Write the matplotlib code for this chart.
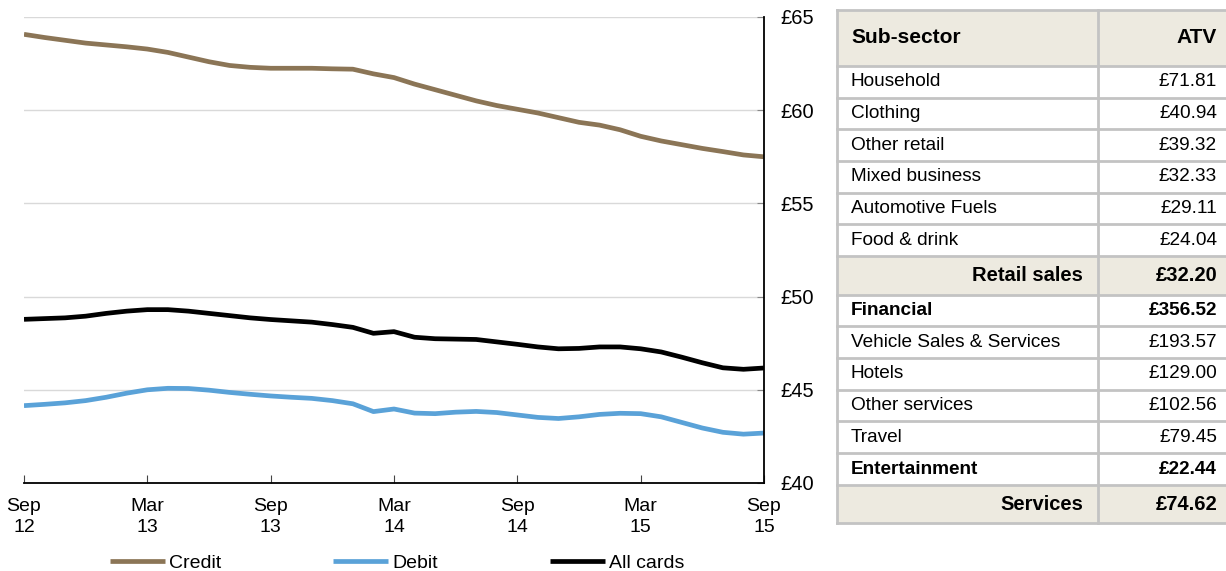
"""Average transaction value by card type, with sub-sector table."""

import matplotlib

matplotlib.use("Agg")
import matplotlib.pyplot as plt
from matplotlib.patches import Rectangle

plt.rcParams["font.family"] = ["Liberation Sans", "DejaVu Sans"]

# monthly ATV, Sep 2012 .. Sep 2015
credit = [64.07, 63.9, 63.75, 63.6, 63.5, 63.4, 63.28, 63.1, 62.85, 62.6,
          62.4, 62.3, 62.25, 62.25, 62.25, 62.22, 62.2, 61.95, 61.75, 61.4,
          61.1, 60.8, 60.5, 60.25, 60.05, 59.85, 59.6, 59.35, 59.2, 58.95,
          58.6, 58.35, 58.15, 57.95, 57.78, 57.6, 57.5]
debit = [44.15, 44.22, 44.3, 44.42, 44.6, 44.82, 45.0, 45.08, 45.07, 44.98,
         44.86, 44.76, 44.67, 44.6, 44.54, 44.42, 44.25, 43.83, 43.97, 43.75,
         43.72, 43.8, 43.84, 43.78, 43.65, 43.52, 43.46, 43.55, 43.68, 43.74,
         43.72, 43.55, 43.25, 42.95, 42.72, 42.62, 42.68]
all_cards = [48.78, 48.82, 48.86, 48.95, 49.1, 49.22, 49.3, 49.3, 49.22, 49.1,
             48.98, 48.86, 48.77, 48.7, 48.63, 48.5, 48.35, 48.03, 48.12, 47.82,
             47.74, 47.72, 47.7, 47.57, 47.44, 47.3, 47.2, 47.22, 47.3, 47.3,
             47.2, 47.03, 46.75, 46.45, 46.18, 46.1, 46.17]
tick_months = [0, 6, 12, 18, 24, 30, 36]
tick_labels = ["Sep\n12", "Mar\n13", "Sep\n13", "Mar\n14", "Sep\n14", "Mar\n15", "Sep\n15"]
y_ticks = [40, 45, 50, 55, 60, 65]

sub_sectors = ["Household", "Clothing", "Other retail", "Mixed business",
               "Automotive Fuels", "Food & drink", "Retail sales", "Financial",
               "Vehicle Sales & Services", "Hotels", "Other services", "Travel",
               "Entertainment", "Services"]
atv = ["£71.81", "£40.94", "£39.32", "£32.33", "£29.11", "£24.04", "£32.20",
       "£356.52", "£193.57", "£129.00", "£102.56", "£79.45", "£22.44", "£74.62"]
row_kind = ["n", "n", "n", "n", "n", "n", "total", "bold",
            "n", "n", "n", "n", "bold", "total"]

W, H = 1226, 571
fig = plt.figure(figsize=(W / 100, H / 100), dpi=100)

ax = fig.add_axes([24 / W, (H - 483) / H, 740 / W, 466 / H])
months = list(range(len(credit)))
ax.plot(months, credit, color="#8b7556", lw=3.4, solid_capstyle="butt", label="Credit")
ax.plot(months, debit, color="#5aa2d8", lw=3.4, solid_capstyle="butt", label="Debit")
ax.plot(months, all_cards, color="#000000", lw=3.4, solid_capstyle="butt", label="All cards")

ax.set_xlim(0, 36)
ax.set_ylim(40, 65)
ax.set_xticks(tick_months)
ax.set_xticklabels(tick_labels, fontsize=14, linespacing=1.3)
ax.set_yticks(y_ticks)
ax.set_yticklabels([f"£{v}" for v in y_ticks], fontsize=14.5)
ax.yaxis.tick_right()
ax.tick_params(axis="y", direction="in", length=5, color="#888888", pad=12)
ax.tick_params(axis="x", direction="in", length=6, color="#444444", pad=11)
for side in ("top", "left"):
    ax.spines[side].set_visible(False)
for side in ("right", "bottom"):
    ax.spines[side].set_linewidth(1.3)
ax.grid(axis="y", color="#d9d9d9", lw=1)
ax.set_axisbelow(True)

fig.legend(loc="center", bbox_to_anchor=(397 / W, 1 - 563 / H), ncol=3,
           frameon=False, fontsize=14, handlelength=2.85, handletextpad=0.2,
           columnspacing=5.75)

# table drawn in pixel space
tx = fig.add_axes([0, 0, 1, 1], zorder=-1)
tx.set_xlim(0, W)
tx.set_ylim(H, 0)
tx.axis("off")

left, mid, right = 837, 1098, 1240
header_h, row_h, total_h = 56.5, 31.7, 38.5
beige, line_c = "#edeae0", "#c3c3c3"

tops = [9.5]
heights = [header_h] + [total_h if k == "total" else row_h for k in row_kind]
for h in heights:
    tops.append(tops[-1] + h)

for i, h in enumerate(heights):
    kind = "header" if i == 0 else row_kind[i - 1]
    if kind in ("header", "total"):
        tx.add_patch(Rectangle((left, tops[i]), right - left, h, color=beige, lw=0))
for y in tops:
    tx.plot([left, right], [y, y], color=line_c, lw=2)
tx.plot([left, left], [tops[0], tops[-1]], color=line_c, lw=2)
tx.plot([mid, mid], [tops[0], tops[-1]], color=line_c, lw=2)

cy = tops[0] + header_h / 2
tx.text(851, cy, "Sub-sector", fontsize=15, fontweight="bold", va="center")
tx.text(1217, cy, "ATV", fontsize=15, fontweight="bold", va="center", ha="right")
for i, (name, val, kind) in enumerate(zip(sub_sectors, atv, row_kind)):
    cy = tops[i + 1] + heights[i + 1] / 2
    weight = "normal" if kind == "n" else "bold"
    size = 14.5 if kind == "total" else 13.7
    if kind == "total":
        tx.text(1083, cy, name, fontsize=size, fontweight=weight, va="center", ha="right")
    else:
        tx.text(851, cy, name, fontsize=size, fontweight=weight, va="center")
    tx.text(1217, cy, val, fontsize=size, fontweight=weight, va="center", ha="right")

fig.savefig("out.png", dpi=100)
